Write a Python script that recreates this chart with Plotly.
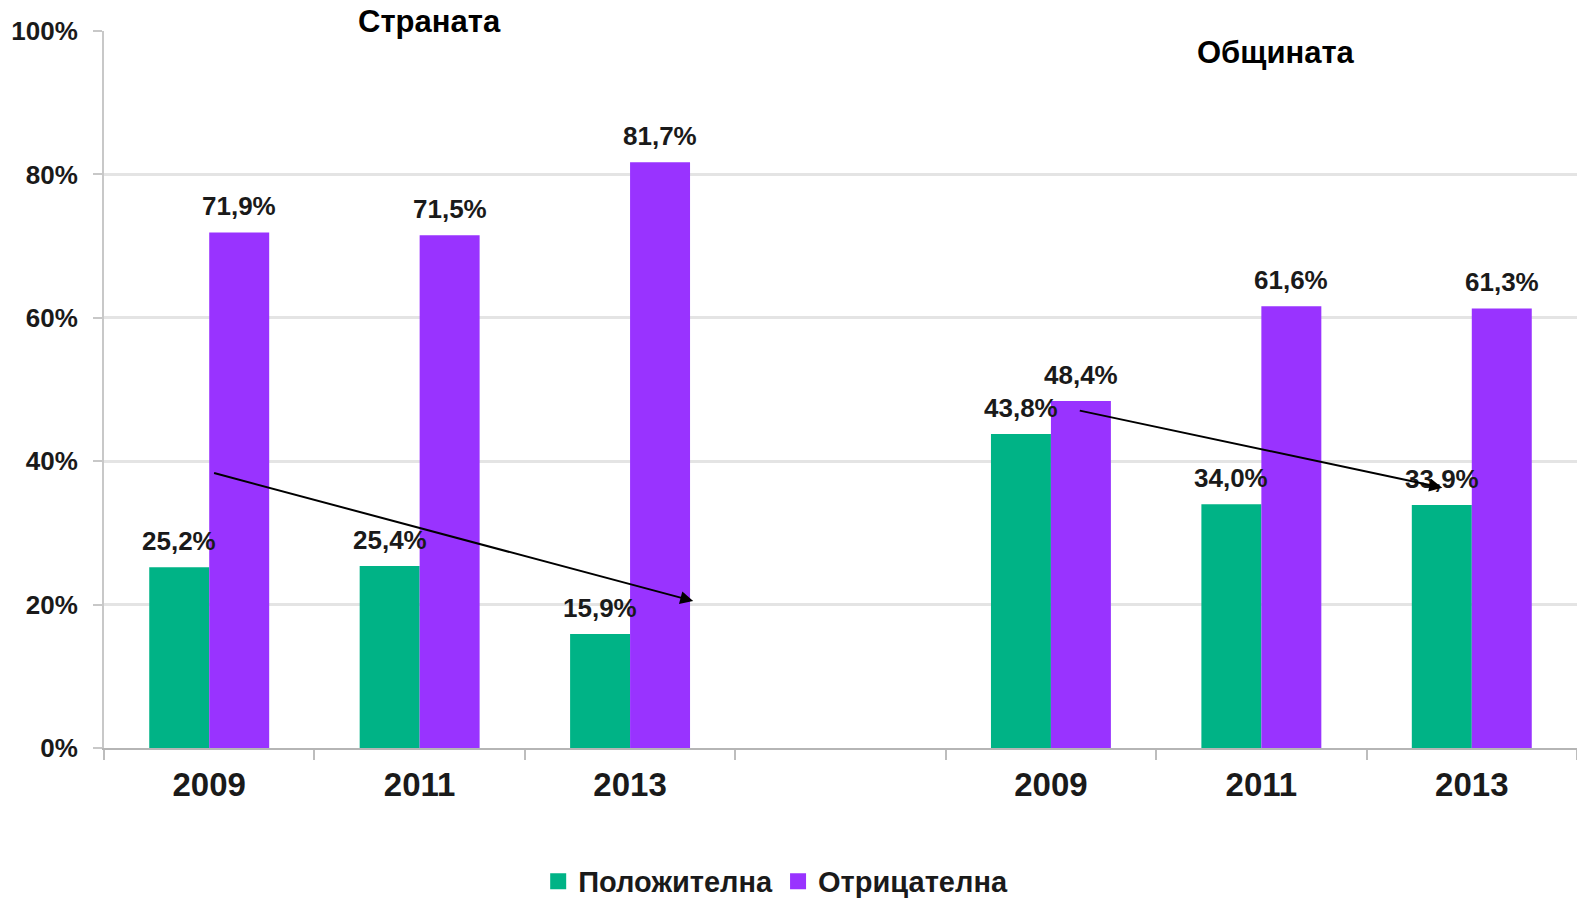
import plotly.graph_objects as go

# ---- data ----
x_keys = ["С-2009", "С-2011", "С-2013", "gap", "О-2009", "О-2011", "О-2013"]
year_labels = ["2009", "2011", "2013", "", "2009", "2011", "2013"]
positive = [25.2, 25.4, 15.9, None, 43.8, 34.0, 33.9]
negative = [71.9, 71.5, 81.7, None, 48.4, 61.6, 61.3]
series_names = ["Положителна", "Отрицателна"]
group_titles = ["Страната", "Общината"]
y_ticks = [0, 20, 40, 60, 80, 100]
# trend arrows: (x tail, y tail, x head, y head) in category index / percent
arrows = [(0.016, 38.4, 2.30, 20.5), (4.13, 47.1, 5.86, 36.3)]

GREEN = "#00B386"
PURPLE = "#9933FF"
FONT = "Arial, Liberation Sans, sans-serif"
TXT = "#1a1a1a"
BARGAP = 0.43

fig = go.Figure()
for name, vals, col in [(series_names[0], positive, GREEN), (series_names[1], negative, PURPLE)]:
    fig.add_trace(go.Bar(x=x_keys, y=vals, name=name, showlegend=False,
                         marker=dict(color=col, line=dict(width=0))))
# legend entries with larger square swatches
for name, col in [(series_names[0], GREEN), (series_names[1], PURPLE)]:
    fig.add_trace(go.Scatter(x=[None], y=[None], mode="markers", name=name,
                             marker=dict(symbol="square", size=17, color=col)))

# data labels
half = (1 - BARGAP) / 4
annotations = []
for sgn, vals in [(-1, positive), (1, negative)]:
    for i, v in enumerate(vals):
        if v is None:
            continue
        annotations.append(dict(
            x=i + sgn * half, y=v, xref="x", yref="y",
            text=f"{v:.1f}%".replace(".", ","), showarrow=False,
            yanchor="bottom", yshift=9,
            font=dict(family=FONT, size=26, color=TXT, weight="bold"),
        ))

# group titles
annotations.append(dict(x=0.2212, y=1.0126, xref="paper", yref="paper", text=group_titles[0],
                        showarrow=False, yanchor="middle", xanchor="center",
                        font=dict(family=FONT, size=31, color="#000", weight="bold")))
annotations.append(dict(x=0.7957, y=0.9707, xref="paper", yref="paper", text=group_titles[1],
                        showarrow=False, yanchor="middle", xanchor="center",
                        font=dict(family=FONT, size=31, color="#000", weight="bold")))

# trend arrows
for (x0, y0, x1, y1) in arrows:
    annotations.append(dict(x=x1, y=y1, ax=x0, ay=y0, xref="x", yref="y", axref="x", ayref="y",
                            text="", showarrow=True, arrowhead=2, arrowsize=1.3, arrowwidth=2,
                            arrowcolor="#000"))

fig.update_layout(
    width=1577, height=903,
    margin=dict(l=104, r=0, t=31, b=155),
    paper_bgcolor="white", plot_bgcolor="white",
    barmode="group", bargap=BARGAP, bargroupgap=0,
    separators=",.",
    annotations=annotations,
    showlegend=True,
    legend=dict(orientation="h", x=0.456, xanchor="center",
                yref="container", y=0.024, yanchor="middle",
                font=dict(family=FONT, size=29, color=TXT, weight="bold"),
                itemwidth=30, itemsizing="trace", tracegroupgap=0),
    xaxis=dict(type="category", categoryorder="array", categoryarray=x_keys,
               tickvals=x_keys, ticktext=year_labels, tickson="boundaries",
               ticks="outside", ticklen=10, tickwidth=2, tickcolor="#bdbdbd",
               showline=True, linecolor="#b5b5b5", linewidth=2,
               showgrid=False, range=[-0.5, 6.5], automargin=False,
               ticklabelstandoff=6,
               tickfont=dict(family=FONT, size=33, color=TXT, weight="bold")),
    yaxis=dict(range=[0, 100], tickvals=y_ticks, ticktext=[f"{t}%" for t in y_ticks],
               ticks="outside", ticklen=9, tickwidth=2, tickcolor="#c8c8c8",
               showline=True, linecolor="#c8c8c8", linewidth=2,
               showgrid=True, gridcolor="#e4e4e4", gridwidth=3, zeroline=False,
               ticklabelstandoff=10, automargin=False,
               tickfont=dict(family=FONT, size=26, color=TXT, weight="bold")),
)

fig.write_html("out.html", config={"displayModeBar": False},
               post_script="document.body.style.margin='0';document.body.style.overflow='hidden';")
